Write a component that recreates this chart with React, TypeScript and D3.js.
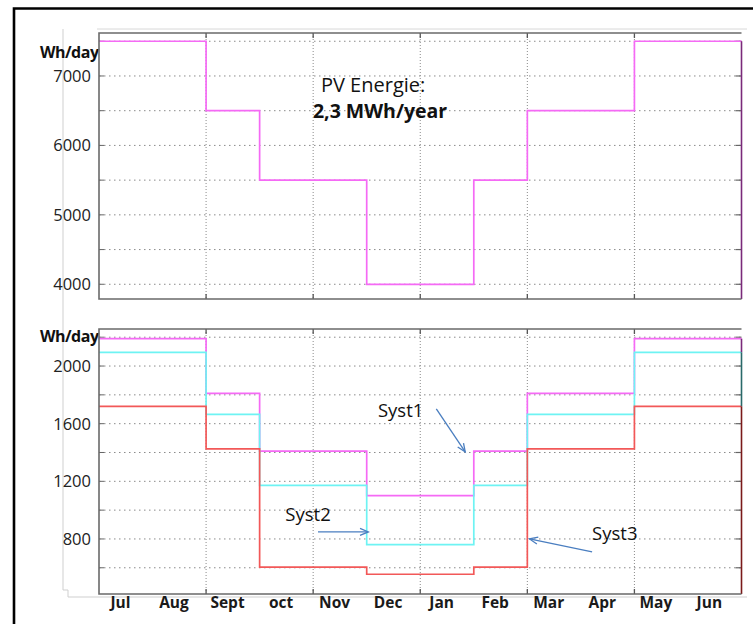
import React from 'react';
import * as d3 from 'd3';

const months = ['Jul', 'Aug', 'Sept', 'oct', 'Nov', 'Dec', 'Jan', 'Feb', 'Mar', 'Apr', 'May', 'Jun'];
const pvEnergy = [7500, 7500, 6500, 5500, 5500, 4000, 4000, 5500, 6500, 6500, 7500, 7500];
const syst1 = [2190, 2190, 1810, 1410, 1410, 1100, 1100, 1410, 1810, 1810, 2190, 2190];
const syst2 = [2095, 2095, 1665, 1172, 1172, 760, 760, 1172, 1665, 1665, 2095, 2095];
const syst3 = [1720, 1720, 1425, 605, 605, 555, 555, 605, 1425, 1425, 1720, 1720];
const topTicks = [4000, 5000, 6000, 7000];
const topGrid = [4000, 4500, 5000, 5500, 6000, 6500, 7000, 7500];
const bottomTicks = [800, 1200, 1600, 2000];
const bottomGrid = [600, 800, 1000, 1200, 1400, 1600, 1800, 2000, 2200];
const monthGrid = [2, 4, 6, 8, 10];

const MAGENTA = '#f56af5';
const CYAN = '#6ef3f3';
const RED = '#f25858';
const FONT = '"Open Sans", "DejaVu Sans", sans-serif';

const X0 = 99, X1 = 741.5;
const x = d3.scaleLinear().domain([0, 12]).range([X0, X1]);
const yTop = d3.scaleLinear().domain([3788, 7619]).range([299, 33]);
const yBot = d3.scaleLinear().domain([418, 2257]).range([594, 329]);

function stepPath(values: number[], y: d3.ScaleLinear<number, number>) {
  const pts: [number, number][] = values.map((v, i) => [i, v]);
  pts.push([12, values[values.length - 1]]);
  return d3.line<[number, number]>().x(d => x(d[0])).y(d => y(d[1])).curve(d3.curveStepAfter)(pts) || '';
}

function Panel({ y, grid, ticks, top, bottom, unitY }: any) {
  return (
    <g>
      {grid.map((g: number) => (
        <line key={'h' + g} x1={X0} x2={X1} y1={y(g)} y2={y(g)} stroke="#8a8a8a" strokeWidth={1} strokeDasharray="1.5,3.5" />
      ))}
      {monthGrid.map(m => (
        <line key={'v' + m} x1={x(m)} x2={x(m)} y1={top} y2={bottom} stroke="#8a8a8a" strokeWidth={1} strokeDasharray="1,2" />
      ))}
      {grid.map((g: number) => (
        <g key={'t' + g}>
          <line x1={X0} x2={X0 + 5} y1={y(g)} y2={y(g)} stroke="#666" strokeWidth={1} />
          <line x1={X1 - 6} x2={X1} y1={y(g)} y2={y(g)} stroke="#666" strokeWidth={1.2} />
        </g>
      ))}
      {monthGrid.map(m => (
        <g key={'tv' + m}>
          <line x1={x(m)} x2={x(m)} y1={top} y2={top + 5} stroke="#555" strokeWidth={1.3} />
          <line x1={x(m)} x2={x(m)} y1={bottom - 5} y2={bottom} stroke="#555" strokeWidth={1.3} />
        </g>
      ))}
      {ticks.map((t: number) => (
        <text key={'l' + t} x={91} y={y(t) + 6} textAnchor="end" fontFamily={FONT} fontSize={16.5} fill="#222">{t}</text>
      ))}
      <text x={98.5} y={unitY} textAnchor="end" fontFamily={FONT} fontSize={16} fontWeight="bold" fill="#111" letterSpacing={-0.5}>Wh/day</text>
    </g>
  );
}

function Frame({ top, bottom }: any) {
  return (
    <path d={`M${X1},${top} L${X0},${top} L${X0},${bottom} L${X1},${bottom}`} fill="none" stroke="#6a6a6a" strokeWidth={1.6} />
  );
}

function Arrow({ from, to, y }: any) {
  const x1 = x(from[0]), y1 = y(from[1]), x2 = x(to[0]), y2 = y(to[1]);
  const ang = Math.atan2(y2 - y1, x2 - x1);
  const L = 9, a = 0.4;
  const p1 = [x2 - L * Math.cos(ang - a), y2 - L * Math.sin(ang - a)];
  const p2 = [x2 - L * Math.cos(ang + a), y2 - L * Math.sin(ang + a)];
  return (
    <g stroke="#4a7ec0" strokeWidth={1.3} fill="none">
      <line x1={x1} y1={y1} x2={x2} y2={y2} />
      <path d={`M${p1[0]},${p1[1]} L${x2},${y2} L${p2[0]},${p2[1]}`} />
    </g>
  );
}

export default function App() {
  const topT = yTop.range()[1], topB = yTop.range()[0];
  const botT = yBot.range()[1], botB = yBot.range()[0];
  return (
    <svg width={753} height={624} style={{ position: 'absolute', left: 0, top: 0, background: '#fff' }}>
      <rect x={0} y={0} width={753} height={624} fill="#fff" />
      {/* faint decorations */}
      <line x1={97} x2={747} y1={29} y2={29} stroke="#d8d8d8" strokeWidth={1} />
      <path d="M63,29 L63,590 L68,590 L68,597 L747,597" fill="none" stroke="#cfcfcf" strokeWidth={1} />

      {/* top panel */}
      <Panel y={yTop} grid={topGrid} ticks={topTicks} top={topT} bottom={topB} unitY={topT + 25} />
      <path d={stepPath(pvEnergy, yTop)} fill="none" stroke={MAGENTA} strokeWidth={1.7} />
      <line x1={X1} x2={X1} y1={yTop(pvEnergy[11])} y2={topB} stroke="#7a2a7a" strokeWidth={1.6} />
      <Frame top={topT} bottom={topB} />
      <text x={x(5.12)} y={yTop(6769)} textAnchor="middle" fontFamily={FONT} fontSize={20} fill="#111">PV Energie:</text>
      <text x={x(5.25)} y={yTop(6393)} textAnchor="middle" fontFamily={FONT} fontSize={19.5} fontWeight="bold" fill="#111">2,3 MWh/year</text>

      {/* bottom panel */}
      <Panel y={yBot} grid={bottomGrid} ticks={bottomTicks} top={botT} bottom={botB} unitY={botT + 13} />
      <path d={stepPath(syst1, yBot)} fill="none" stroke={MAGENTA} strokeWidth={1.7} />
      <path d={stepPath(syst2, yBot)} fill="none" stroke={CYAN} strokeWidth={1.7} />
      <path d={stepPath(syst3, yBot)} fill="none" stroke={RED} strokeWidth={1.7} />
      <line x1={X1} x2={X1} y1={yBot(syst1[11])} y2={yBot(syst2[11])} stroke="#7a2a7a" strokeWidth={1.6} />
      <line x1={X1} x2={X1} y1={yBot(syst2[11])} y2={yBot(syst3[11])} stroke="#2a6a6a" strokeWidth={1.6} />
      <line x1={X1} x2={X1} y1={yBot(syst3[11])} y2={botB} stroke="#7a1a1a" strokeWidth={1.6} />
      <Frame top={botT} bottom={botB} />

      {/* annotations */}
      <text x={x(5.21)} y={yBot(1646)} fontFamily={FONT} fontSize={18.5} fill="#111">Syst1</text>
      <Arrow y={yBot} from={[6.3, 1702]} to={[6.84, 1404]} />
      <text x={x(3.48)} y={yBot(925)} fontFamily={FONT} fontSize={18.5} fill="#111">Syst2</text>
      <Arrow y={yBot} from={[4.09, 849]} to={[5.03, 849]} />
      <text x={x(9.21)} y={yBot(793)} fontFamily={FONT} fontSize={18.5} fill="#111">Syst3</text>
      <Arrow y={yBot} from={[9.21, 710]} to={[8.04, 800]} />

      {/* month labels */}
      {months.map((m, i) => (
        <text key={m} x={x(i + 0.4)} y={608} textAnchor="middle" fontFamily={FONT} fontSize={15.5} fontWeight="bold" fill="#1a1a1a">{m}</text>
      ))}

      {/* outer black frame */}
      <path d="M14,640 L14,8.5 L760,8.5" fill="none" stroke="#000" strokeWidth={2.6} />
    </svg>
  );
}
